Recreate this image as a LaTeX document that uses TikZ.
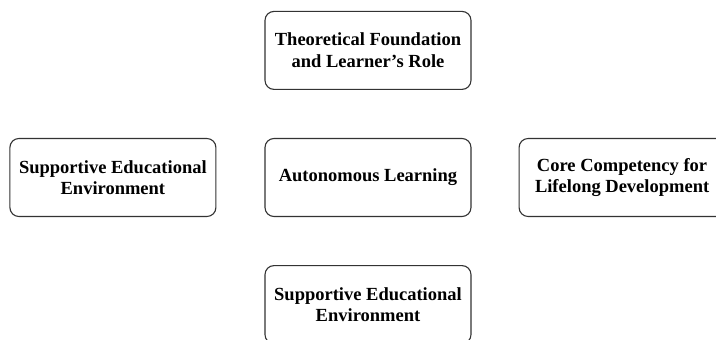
\documentclass[tikz,border=0pt]{standalone}
\usepackage{fontspec}
\setmainfont{Liberation Serif}
\usepackage{tikz}
\usetikzlibrary{positioning}

\tikzset{
  topic/.style={draw=black!80, line width=1.1pt, rounded corners=9pt, fill=white,
    minimum width=206pt, minimum height=78pt, align=center, inner sep=2pt,
    font=\fontsize{18.5}{21.5}\selectfont\bfseries},
}

\begin{document}
\begin{tikzpicture}[x=1pt, y=1pt]
    \useasboundingbox (0,0) rectangle (716,340);
    \node[topic] (auto) at (368,162.5) {Autonomous Learning};
    \node[topic, above=48pt of auto] (theory) {Theoretical Foundation\\and Learner's Role};
    \node[topic, left=48pt of auto] (envleft) {Supportive Educational\\Environment};
    \node[topic, right=47pt of auto] (core) {Core Competency for\\Lifelong Development};
    \node[topic, below=48pt of auto] (envlow) {Supportive Educational\\Environment};
  \end{tikzpicture}
\end{document}
